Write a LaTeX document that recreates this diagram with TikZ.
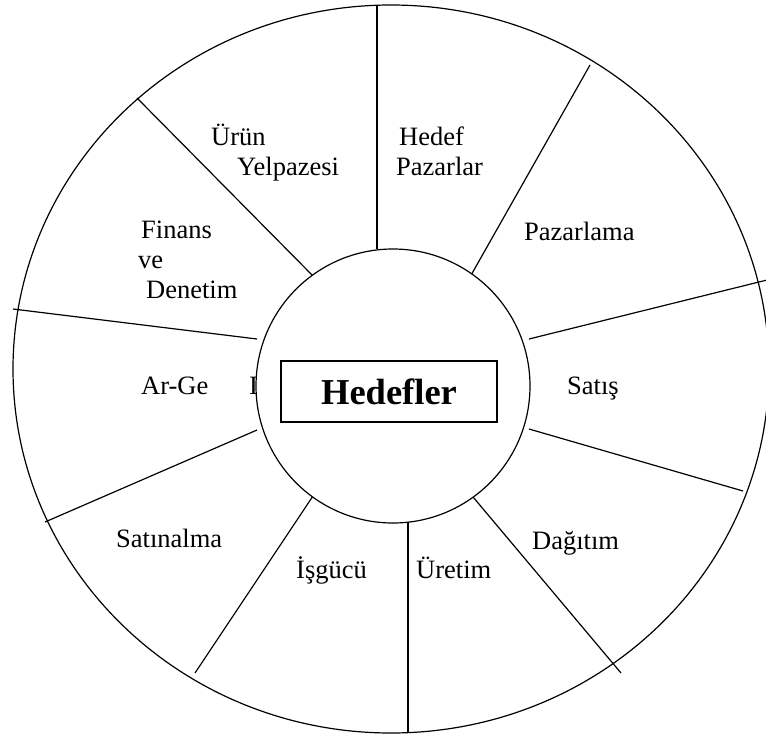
\documentclass[tikz,border=0pt]{standalone}
\usepackage{fontspec}
\setmainfont{Liberation Serif}
\newcommand{\ringwd}{1.2pt}
\tikzset{sector/.style={anchor=base west, inner sep=0pt, font=\fontsize{26.5}{30}\selectfont}}
\tikzset{spoke/.style={line width=\ringwd}}

\begin{document}
\begin{tikzpicture}[x=1pt,y=-1pt]
\useasboundingbox (0,0) rectangle (766,737);
\clip (0,0) rectangle (766,737);

% outer ring
\draw[spoke] (391,369) ellipse [x radius=378, y radius=364];

% dividers, clockwise from the top
\draw[spoke] (377,5) -- (377,249);
\draw[spoke] (590,65) -- (470,277);
\draw[spoke] (767,280) -- (529,339);
\draw[spoke] (743,491) -- (529,429);
\draw[spoke] (621,673) -- (468,491);
\draw[spoke] (408,733) -- (408,522);
\draw[spoke] (195,673) -- (317,490);
\draw[spoke] (45,522) -- (257,430);
\draw[spoke] (13,309) -- (257,339);
\draw[spoke] (137,98) -- (315,278);

% sector labels
\node[sector] (urun) at (211,145) {Ürün};
\node[sector] (yelpaze) at (237,175) {Yelpazesi};
\node[sector] (hedef) at (399,145) {Hedef};
\node[sector] (pazarlar) at (396,175) {Pazarlar};
\node[sector] (pazarlama) at (524,240) {Pazarlama};
\node[sector] (satis) at (567,394) {Satış};
\node[sector] (dagitim) at (532,549) {Dağıtım};
\node[sector] (uretim) at (416,578) {Üretim};
\node[sector] (isgucu) at (296,578) {İşgücü};
\node[sector] (satinalma) at (116,547) {Satınalma};
\node[sector] (arge) at (141,394) {Ar-Ge};
\node[sector] (finans) at (141,238) {Finans};
\node[sector] (ve) at (138,268) {ve};
\node[sector] (denetim) at (146,298) {Denetim};
\node[sector] (stray) at (249,394) {I};

% hub
\node[circle, draw, fill=white, line width=\ringwd, minimum size=274pt, inner sep=0pt] (hub) at (393,386) {};
\node[draw, line width=1.5pt, minimum width=216pt, minimum height=61pt, inner sep=0pt,
  font=\fontsize{36.5}{40}\selectfont\bfseries] (goal) at (389,391.5) {Hedefler};
\end{tikzpicture}
\end{document}
